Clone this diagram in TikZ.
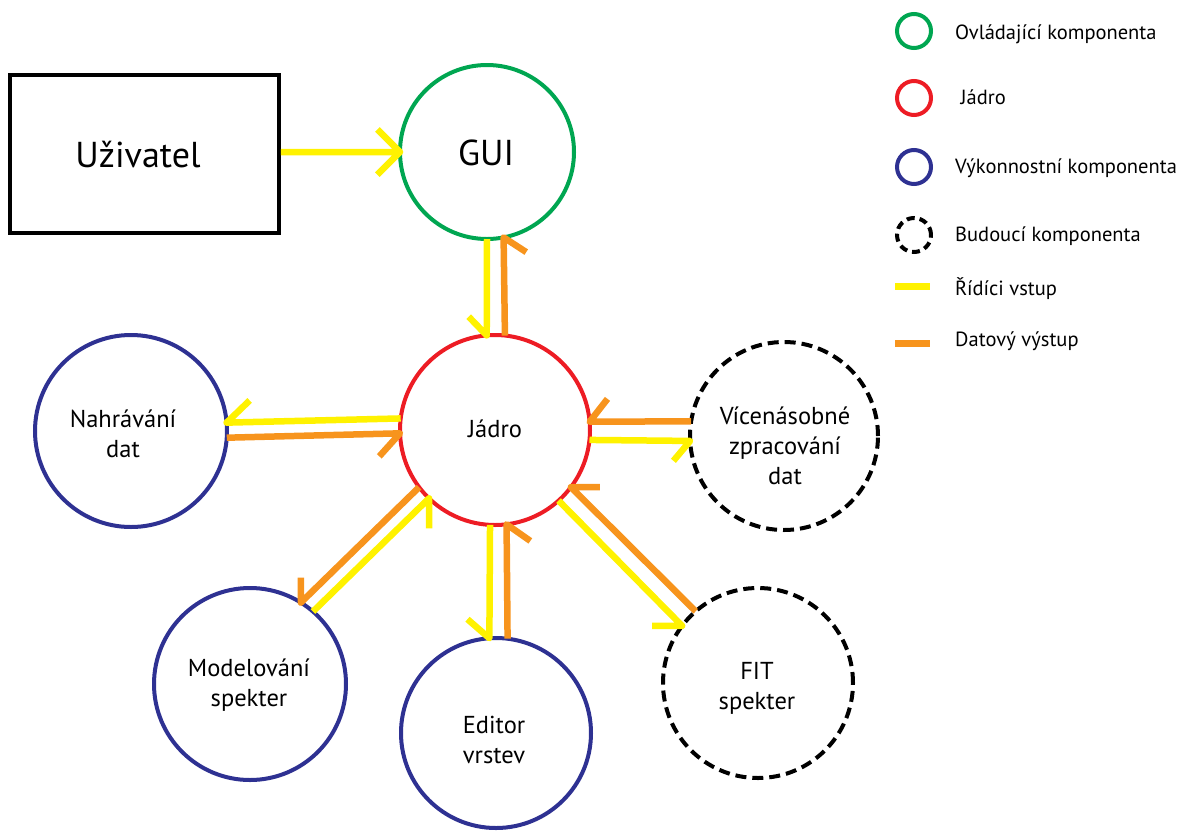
\documentclass[tikz,border=0pt]{standalone}
\usepackage{fontspec}
\setmainfont{PT Sans}
\definecolor{ctrlyellow}{HTML}{FFF200}
\definecolor{dataorange}{HTML}{F7941D}
\definecolor{guigreen}{HTML}{00A651}
\definecolor{corered}{HTML}{ED1C24}
\definecolor{workblue}{HTML}{2E3192}
\begin{document}
\begin{tikzpicture}[x=1pt,y=1pt,
  comp/.style={circle, line width=4pt, inner sep=0pt, outer sep=0pt},
  future/.style={comp, draw=black, dash pattern=on 11pt off 6pt},
  ctrl/.style={draw=ctrlyellow, line width=6.5pt, line join=round},
  data/.style={draw=dataorange, line width=6.5pt, line join=round},
  txt/.style={font=\fontsize{24.5}{30}\selectfont, align=center, inner sep=0pt},
  bigtxt/.style={font=\fontsize{36}{40}\selectfont, inner sep=0pt, anchor=base},
  legtxt/.style={font=\fontsize{20.5}{25}\selectfont, anchor=base west, inner sep=0pt},
]
\useasboundingbox (0,0) rectangle (1184,-831);

% user box
\node[draw, line width=3.5pt, minimum width=269pt, minimum height=158pt, inner sep=0pt] (uziv) at (144.5,-154) {};
\node[bigtxt] (uzivT) at (138,-167) {Uživatel};

% components
\node[comp, draw=guigreen, minimum size=174pt] (gui) at (487,-152) {};
\node[bigtxt] (guiT) at (486,-165) {GUI};
\node[comp, draw=corered, minimum size=190pt] (jadro) at (495,-430) {};
\node[txt, anchor=base] (jadroT) at (495,-437) {Jádro};
\node[comp, draw=workblue, minimum size=192pt] (nahr) at (131,-431) {};
\node[txt] (nahrT) at (123,-434) {Nahrávání\\dat};
\node[future, minimum size=188pt] (vice) at (784,-436) {};
\node[txt] (viceT) at (785,-446) {Vícenásobné\\zpracování\\dat};
\node[comp, draw=workblue, minimum size=192pt] (model) at (250,-684) {};
\node[txt] (modelT) at (249,-685) {Modelování\\spekter};
\node[comp, draw=workblue, minimum size=190pt] (editor) at (496,-733) {};
\node[txt] (editorT) at (494,-740) {Editor\\vrstev};
\node[future, minimum size=190pt] (fit) at (758,-683) {};
\node[txt] (fitT) at (757,-688) {FIT\\spekter};

% user -> GUI
\draw[ctrl] (uziv.east |- gui.west) -- (gui.west) ++(135:32pt) -- (gui.west) -- ++(-135:32pt);

% GUI <-> core
\draw[ctrl] (gui.-90) -- (jadro.95) -- ++(134:26pt);
\draw[data] (jadro.84) -- (gui.-79) -- ++(-33:27pt);

% loading <-> core
\draw[ctrl] (jadro.173) -- (nahr.5) -- ++(44:32pt);
\draw[data] (nahr.-4) -- (jadro.182) -- ++(-132:31pt);

% multiple processing <-> core
\draw[data] (vice.171) -- (jadro.5) -- ++(52:29pt);
\draw[ctrl] (jadro.-6) -- (vice.-177) -- ++(-130:26pt);

% modelling <-> core
\draw[data] (jadro.-143) -- (model.58) -- ++(90:25pt);
\draw[ctrl] (model.49) -- (jadro.-134) -- ++(-90:30pt);

% layer editor <-> core
\draw[ctrl] (jadro.-93) -- (editor.94) -- ++(139:29pt);
\draw[data] (editor.83) -- (jadro.-83) -- ++(-35:29pt);

% fit <-> core
\draw[data] (fit.131) -- (jadro.-37) -- ++(0:29pt);
\draw[ctrl] (jadro.-48) -- (fit.143) -- ++(180:30pt);

% legend
\node[comp, draw=guigreen, minimum size=34pt] (lgui) at (914,-31) {};
\node[comp, draw=corered, minimum size=34pt] (ljadro) at (914,-98) {};
\node[comp, draw=workblue, minimum size=34pt] (lwork) at (914,-167) {};
\node[comp, draw=black, dash pattern=on 8pt off 5pt, minimum size=34pt] (lfut) at (914,-235) {};
\coordinate (lctrlA) at (895,-286.5);
\coordinate (lctrlB) at (930,-286.5);
\draw[ctrl] (lctrlA) -- (lctrlB);
\coordinate (ldataA) at (895,-343.5);
\coordinate (ldataB) at (930,-343.5);
\draw[data] (ldataA) -- (ldataB);

\node[legtxt] (lguiT) at (955,-39.3) {Ovládající komponenta};
\node[legtxt] (ljadroT) at (955,-104) {\ Jádro};
\node[legtxt] (lworkT) at (955,-173) {Výkonnostní komponenta};
\node[legtxt] (lfutT) at (955,-241.7) {Budoucí komponenta};
\node[legtxt] (lctrlT) at (955,-295) {Řídíci vstup};
\node[legtxt] (ldataT) at (955,-346.7) {Datový výstup};
\end{tikzpicture}
\end{document}
